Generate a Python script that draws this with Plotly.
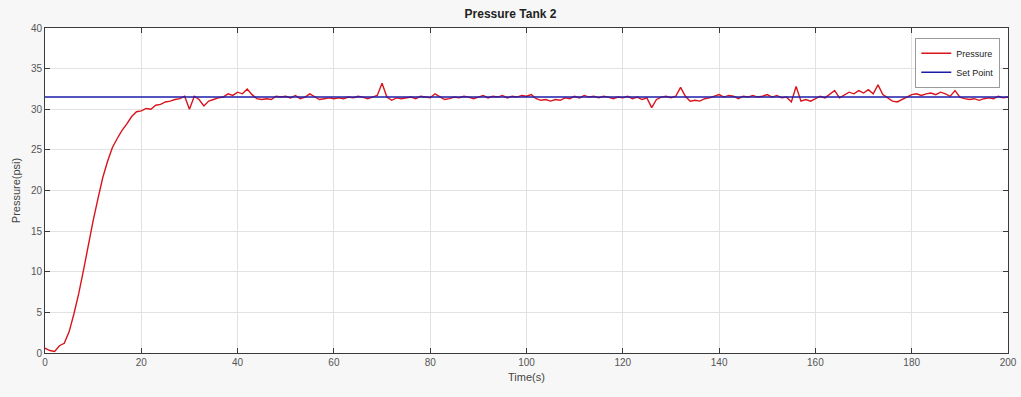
import plotly.graph_objects as go

# Sample times (s) and measured tank pressure (psi)
time_s = list(range(0, 201))
pressure = [
    0.6, 0.3, 0.2, 0.9, 1.2, 2.6, 4.8, 7.3, 10.2, 13.3,
    16.3, 19.0, 21.6, 23.6, 25.3, 26.4, 27.4, 28.2, 29.1, 29.7,
    29.8, 30.1, 30.0, 30.5, 30.6, 30.9, 31.0, 31.2, 31.3, 31.6,
    30.0, 31.6, 31.2, 30.4, 31.0, 31.2, 31.4, 31.5, 31.9, 31.7,
    32.1, 31.9, 32.5, 31.8, 31.3, 31.2, 31.3, 31.2, 31.6, 31.5,
    31.6, 31.4, 31.7, 31.3, 31.5, 31.9, 31.5, 31.2, 31.3, 31.4,
    31.3, 31.4, 31.3, 31.5, 31.4, 31.6, 31.5, 31.3, 31.5, 31.7,
    33.2, 31.5, 31.1, 31.4, 31.3, 31.4, 31.5, 31.3, 31.6, 31.5,
    31.4, 31.9, 31.6, 31.2, 31.3, 31.5, 31.4, 31.6, 31.5, 31.3,
    31.5, 31.7, 31.4, 31.6, 31.5, 31.7, 31.4, 31.6, 31.5, 31.7,
    31.6, 31.8, 31.3, 31.1, 31.2, 31.0, 31.2, 31.1, 31.4, 31.3,
    31.6, 31.4, 31.7, 31.5, 31.6, 31.4, 31.6, 31.5, 31.3, 31.5,
    31.4, 31.6, 31.3, 31.5, 31.2, 31.4, 30.2, 31.2, 31.5, 31.6,
    31.4, 31.6, 32.7, 31.6, 31.0, 31.1, 31.0, 31.3, 31.4, 31.6,
    31.8, 31.5, 31.7, 31.6, 31.3, 31.6, 31.5, 31.7, 31.5, 31.6,
    31.8, 31.5, 31.7, 31.4, 31.5, 30.9, 32.8, 31.0, 31.2, 31.0,
    31.3, 31.6, 31.4, 31.8, 32.3, 31.4, 31.8, 32.1, 31.9, 32.3,
    32.0, 32.4, 31.9, 33.0, 31.8, 31.4, 31.0, 30.9, 31.2, 31.5,
    31.8, 31.9, 31.7, 31.9, 32.0, 31.8, 32.1, 31.9, 31.6, 32.3,
    31.5, 31.3, 31.2, 31.3, 31.1, 31.3, 31.4, 31.3, 31.6, 31.4,
    31.5,
]
set_point_value = 31.5
set_point_time = [0, 200]
set_point = [set_point_value, set_point_value]

x_ticks = [0, 20, 40, 60, 80, 100, 120, 140, 160, 180, 200]
y_ticks = [0, 5, 10, 15, 20, 25, 30, 35, 40]

fig = go.Figure()
fig.add_trace(go.Scatter(
    x=time_s, y=pressure, mode="lines", name="Pressure",
    line=dict(color="#d8141c", width=1.4),
))
fig.add_trace(go.Scatter(
    x=set_point_time, y=set_point, mode="lines", name="Set Point",
    line=dict(color="#1c1caa", width=1.6),
))

axis_common = dict(
    showline=True, linecolor="#3a3a3a", linewidth=1, mirror="ticks",
    ticks="inside", ticklen=5, tickcolor="#3a3a3a",
    showgrid=True, gridcolor="#e2e2e2", gridwidth=1,
    zeroline=False, automargin=False,
    tickfont=dict(family="Liberation Sans, Arial", size=10, color="#555555"),
    title_font=dict(family="Liberation Sans, Arial", size=11, color="#444444"),
)

fig.update_layout(
    width=1021, height=397,
    margin=dict(l=45, r=13, t=28, b=44),
    paper_bgcolor="#f7f7f7", plot_bgcolor="#ffffff",
    title=dict(
        text="<b>Pressure Tank 2</b>", x=0.5, xanchor="center",
        y=0.975, yanchor="top",
        font=dict(family="Liberation Sans, Arial", size=12, color="#222222"),
    ),
    xaxis=dict(range=[0, 200], tickvals=x_ticks, title=dict(text="Time(s)", standoff=6), **axis_common),
    yaxis=dict(range=[0, 40], tickvals=y_ticks, title=dict(text="Pressure(psi)", standoff=8), **axis_common),
    legend=dict(
        x=0.992, y=0.97, xanchor="right", yanchor="top",
        bgcolor="#ffffff", bordercolor="#9a9a9a", borderwidth=1,
        font=dict(family="Liberation Sans, Arial", size=9, color="#222222"),
        tracegroupgap=0, itemwidth=30,
    ),
    showlegend=True,
)

fig.write_html("out.html")
